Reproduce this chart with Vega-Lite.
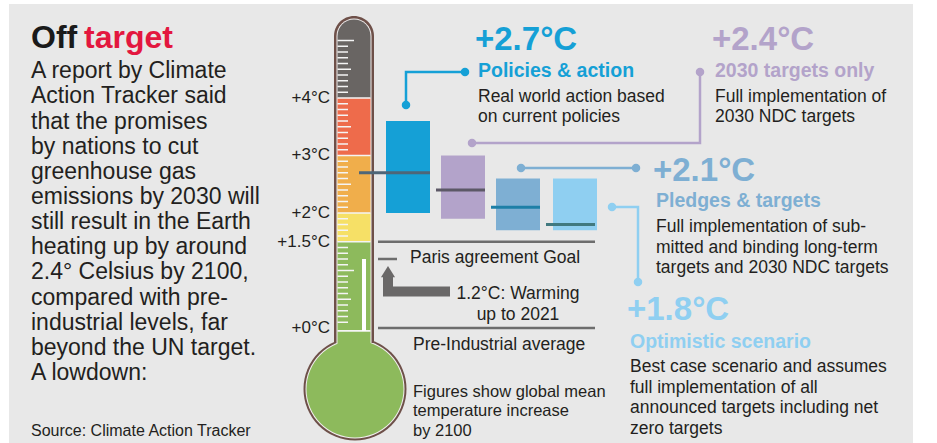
{
  "$schema": "https://vega.github.io/schema/vega-lite/v6.json",
  "width": 937,
  "height": 443,
  "autosize": {"type": "fit", "contains": "padding"},
  "padding": 0,
  "background": "#ffffff",
  "config": {"view": {"stroke": null}, "font": "Liberation Sans", "text": {"font": "Liberation Sans"}},
  "datasets": {
    "panel": [{"x0": 9, "x1": 913, "t0": -2, "t1": 5.635}],
    "bulb": [{"x": 355, "t": -1.061}],
    "tube": [
      {"part": "outline", "x0": 334, "x1": 374, "t0": -0.26, "t1": 5.426},
      {"part": "rim", "x0": 336.5, "x1": 371.5, "t0": -0.26, "t1": 5.383}
    ],
    "segments": [
      {"band": "green", "x0": 337.5, "x1": 370.5, "t0": -0.504, "t1": 1.5},
      {"band": "yellow", "x0": 337.5, "x1": 370.5, "t0": 1.5, "t1": 2},
      {"band": "orange", "x0": 337.5, "x1": 370.5, "t0": 2, "t1": 3},
      {"band": "red", "x0": 337.5, "x1": 370.5, "t0": 3, "t1": 4},
      {"band": "dark", "x0": 337.5, "x1": 370.5, "t0": 4, "t1": 5.365}
    ],
    "bounds": [{"t": -0.05}, {"t": 1.5}, {"t": 2}, {"t": 3}, {"t": 4}],
    "scale_labels": [
      {"t": 0, "label": "+0°C"},
      {"t": 1.5, "label": "+1.5°C"},
      {"t": 2, "label": "+2°C"},
      {"t": 3, "label": "+3°C"},
      {"t": 4, "label": "+4°C"}
    ],
    "ticks": [
      {"t": 0.1, "len": "s"}, {"t": 0.2, "len": "s"}, {"t": 0.3, "len": "s"}, {"t": 0.4, "len": "s"}, {"t": 0.5, "len": "h"},
      {"t": 0.6, "len": "s"}, {"t": 0.7, "len": "s"}, {"t": 0.8, "len": "s"}, {"t": 0.9, "len": "s"}, {"t": 1.0, "len": "i"},
      {"t": 1.1, "len": "s"}, {"t": 1.2, "len": "s"}, {"t": 1.3, "len": "s"}, {"t": 1.4, "len": "s"},
      {"t": 1.6, "len": "s"}, {"t": 1.7, "len": "s"}, {"t": 1.8, "len": "s"}, {"t": 1.9, "len": "s"},
      {"t": 2.1, "len": "s"}, {"t": 2.2, "len": "s"}, {"t": 2.3, "len": "s"}, {"t": 2.4, "len": "s"}, {"t": 2.5, "len": "h"},
      {"t": 2.6, "len": "s"}, {"t": 2.7, "len": "s"}, {"t": 2.8, "len": "s"}, {"t": 2.9, "len": "s"},
      {"t": 3.1, "len": "s"}, {"t": 3.2, "len": "s"}, {"t": 3.3, "len": "s"}, {"t": 3.4, "len": "s"}, {"t": 3.5, "len": "h"},
      {"t": 3.6, "len": "s"}, {"t": 3.7, "len": "s"}, {"t": 3.8, "len": "s"}, {"t": 3.9, "len": "s"},
      {"t": 4.1, "len": "s"}, {"t": 4.2, "len": "s"}, {"t": 4.3, "len": "s"}, {"t": 4.4, "len": "s"}, {"t": 4.5, "len": "h"},
      {"t": 4.6, "len": "s"}, {"t": 4.7, "len": "s"}, {"t": 4.8, "len": "s"}, {"t": 4.9, "len": "s"}, {"t": 5.0, "len": "i"}
    ],
    "mercury": [{"x": 364, "t0": -0.05, "t1": 1.2}],
    "scenarios": [
      {"scenario": "Policies & action", "x0": 386, "x1": 430, "low": 2.0, "high": 3.6, "mid": 2.7, "mx0": 359, "mx1": 430},
      {"scenario": "2030 targets only", "x0": 441, "x1": 485, "low": 1.9, "high": 3.0, "mid": 2.4, "mx0": 436, "mx1": 485},
      {"scenario": "Pledges & targets", "x0": 496, "x1": 540, "low": 1.7, "high": 2.6, "mid": 2.1, "mx0": 491, "mx1": 540},
      {"scenario": "Optimistic scenario", "x0": 553, "x1": 597, "low": 1.7, "high": 2.6, "mid": 1.8, "mx0": 546, "mx1": 595}
    ],
    "connectors": [
      {"scenario": "Policies & action", "o": 1, "x": 406, "t": 3.878, "end": true},
      {"scenario": "Policies & action", "o": 2, "x": 406, "t": 4.452, "end": false},
      {"scenario": "Policies & action", "o": 3, "x": 465, "t": 4.452, "end": true},
      {"scenario": "2030 targets only", "o": 1, "x": 472, "t": 3.217, "end": true},
      {"scenario": "2030 targets only", "o": 2, "x": 700, "t": 3.217, "end": false},
      {"scenario": "2030 targets only", "o": 3, "x": 700, "t": 4.452, "end": true},
      {"scenario": "Pledges & targets", "o": 1, "x": 521, "t": 2.783, "end": true},
      {"scenario": "Pledges & targets", "o": 2, "x": 636, "t": 2.783, "end": true},
      {"scenario": "Optimistic scenario", "o": 1, "x": 612, "t": 2.104, "end": true},
      {"scenario": "Optimistic scenario", "o": 2, "x": 638, "t": 2.104, "end": false},
      {"scenario": "Optimistic scenario", "o": 3, "x": 638, "t": 0.8, "end": true}
    ],
    "guides": [
      {"x0": 378, "x1": 595, "t": 1.5},
      {"x0": 378, "x1": 595, "t": 0},
      {"x0": 378, "x1": 397, "t": 1.2}
    ],
    "arrow": [
      {"o": 1, "x": 388, "t": 0.887},
      {"o": 2, "x": 388, "t": 0.635},
      {"o": 3, "x": 450, "t": 0.635}
    ],
    "arrowhead": [{"x": 388, "t": 0.957}],
    "texts": [
      {"kind": "off", "x": 31, "t": 4.87, "text": "Off"},
      {"kind": "target", "x": 84, "t": 4.87, "text": "target"},
      {"kind": "lead", "x": 31, "t": 4.343, "text": "A report by Climate\nAction Tracker said\nthat the promises\nby nations to cut\ngreenhouse gas\nemissions by 2030 will\nstill result in the Earth\nheating up by around\n2.4° Celsius by 2100,\ncompared with pre-\nindustrial levels, far\nbeyond the UN target.\nA lowdown:"},
      {"kind": "source", "x": 31, "t": -1.87, "text": "Source: Climate Action Tracker"},
      {"kind": "note", "x": 410, "t": 1.13, "text": "Paris agreement Goal"},
      {"kind": "note", "x": 413, "t": -0.383, "text": "Pre-Industrial average"},
      {"kind": "notec", "x": 518, "t": 0.496, "text": "1.2°C: Warming\nup to 2021"},
      {"kind": "fig", "x": 413, "t": -1.2, "text": "Figures show global mean\ntemperature increase\nby 2100"},
      {"kind": "head", "scenario": "Policies & action", "x": 475, "t": 4.835, "text": "+2.7°C"},
      {"kind": "head", "scenario": "2030 targets only", "x": 712, "t": 4.835, "text": "+2.4°C"},
      {"kind": "head", "scenario": "Pledges & targets", "x": 653, "t": 2.557, "text": "+2.1°C"},
      {"kind": "head", "scenario": "Optimistic scenario", "x": 627, "t": 0.139, "text": "+1.8°C"},
      {"kind": "sub", "scenario": "Policies & action", "x": 478, "t": 4.365, "text": "Policies & action"},
      {"kind": "sub", "scenario": "2030 targets only", "x": 715, "t": 4.365, "text": "2030 targets only"},
      {"kind": "sub", "scenario": "Pledges & targets", "x": 656, "t": 2.104, "text": "Pledges & targets"},
      {"kind": "sub", "scenario": "Optimistic scenario", "x": 630, "t": -0.348, "text": "Optimistic scenario"},
      {"kind": "body", "x": 478, "t": 3.939, "text": "Real world action based\non current policies"},
      {"kind": "body", "x": 715, "t": 3.939, "text": "Full implementation of\n2030 NDC targets"},
      {"kind": "body", "x": 656, "t": 1.67, "text": "Full implementation of sub-\nmitted and binding long-term\ntargets and 2030 NDC targets"},
      {"kind": "body", "x": 630, "t": -0.765, "text": "Best case scenario and assumes\nfull implementation of all\nannounced targets including net\nzero targets"}
    ]
  },
  "layer": [
    {
      "data": {"name": "panel"},
      "mark": {"type": "rect", "color": "#e8e8e8"},
      "encoding": {
        "x": {"field": "x0", "type": "quantitative", "scale": {"domain": [0, 937], "nice": false, "zero": false}, "axis": null},
        "x2": {"field": "x1"},
        "y": {"field": "t0", "type": "quantitative", "scale": {"domain": [-2, 5.7043], "nice": false, "zero": false}, "axis": null},
        "y2": {"field": "t1"}
      }
    },
    {
      "data": {"name": "scale_labels"},
      "mark": {"type": "text", "align": "right", "baseline": "middle", "fontSize": 17, "color": "#231f20"},
      "encoding": {"x": {"datum": 330, "type": "quantitative", "axis": null}, "y": {"field": "t", "type": "quantitative", "axis": null}, "text": {"field": "label", "type": "nominal"}}
    },
    {
      "data": {"name": "bulb"},
      "mark": {"type": "point", "filled": true, "opacity": 1, "size": 10609, "color": "#6e5049"},
      "encoding": {"x": {"field": "x", "type": "quantitative", "axis": null}, "y": {"field": "t", "type": "quantitative", "axis": null}}
    },
    {
      "data": {"name": "bulb"},
      "mark": {"type": "point", "filled": true, "opacity": 1, "size": 9801, "color": "#f1efef"},
      "encoding": {"x": {"field": "x", "type": "quantitative", "axis": null}, "y": {"field": "t", "type": "quantitative", "axis": null}}
    },
    {
      "data": {"name": "bulb"},
      "mark": {"type": "point", "filled": true, "opacity": 1, "size": 9409, "color": "#8dba5c"},
      "encoding": {"x": {"field": "x", "type": "quantitative", "axis": null}, "y": {"field": "t", "type": "quantitative", "axis": null}}
    },
    {
      "data": {"name": "tube"},
      "transform": [{"filter": "datum.part == 'outline'"}],
      "mark": {"type": "rect", "color": "#6e5049", "cornerRadiusTopLeft": 20, "cornerRadiusTopRight": 20},
      "encoding": {"x": {"field": "x0", "type": "quantitative", "axis": null}, "x2": {"field": "x1"}, "y": {"field": "t0", "type": "quantitative", "axis": null}, "y2": {"field": "t1"}}
    },
    {
      "data": {"name": "tube"},
      "transform": [{"filter": "datum.part == 'rim'"}],
      "mark": {"type": "rect", "color": "#f1efef", "cornerRadiusTopLeft": 17.5, "cornerRadiusTopRight": 17.5},
      "encoding": {"x": {"field": "x0", "type": "quantitative", "axis": null}, "x2": {"field": "x1"}, "y": {"field": "t0", "type": "quantitative", "axis": null}, "y2": {"field": "t1"}}
    },
    {
      "data": {"name": "segments"},
      "transform": [{"filter": "datum.band != 'dark'"}],
      "mark": {"type": "rect"},
      "encoding": {
        "x": {"field": "x0", "type": "quantitative", "axis": null}, "x2": {"field": "x1"},
        "y": {"field": "t0", "type": "quantitative", "axis": null}, "y2": {"field": "t1"},
        "fill": {"field": "band", "type": "nominal", "legend": null, "scale": {"domain": ["green", "yellow", "orange", "red", "dark"], "range": ["#8dba5c", "#f6e066", "#f0ae4b", "#ee6b4b", "#696563"]}}
      }
    },
    {
      "data": {"name": "segments"},
      "transform": [{"filter": "datum.band == 'dark'"}],
      "mark": {"type": "rect", "cornerRadiusTopLeft": 16.5, "cornerRadiusTopRight": 16.5},
      "encoding": {
        "x": {"field": "x0", "type": "quantitative", "axis": null}, "x2": {"field": "x1"},
        "y": {"field": "t0", "type": "quantitative", "axis": null}, "y2": {"field": "t1"},
        "fill": {"field": "band", "type": "nominal", "legend": null}
      }
    },
    {
      "data": {"name": "bounds"},
      "mark": {"type": "rule", "color": "#f4f4f4", "strokeWidth": 1.6},
      "encoding": {"x": {"datum": 337.5, "type": "quantitative", "axis": null}, "x2": {"datum": 370.5}, "y": {"field": "t", "type": "quantitative", "axis": null}}
    },
    {
      "data": {"name": "ticks"},
      "transform": [{"filter": "datum.len == 's'"}],
      "mark": {"type": "rule", "color": "#f4f4f4", "strokeWidth": 1.5},
      "encoding": {"x": {"datum": 337.5, "type": "quantitative", "axis": null}, "x2": {"datum": 348}, "y": {"field": "t", "type": "quantitative", "axis": null}}
    },
    {
      "data": {"name": "ticks"},
      "transform": [{"filter": "datum.len == 'h'"}],
      "mark": {"type": "rule", "color": "#f4f4f4", "strokeWidth": 1.5},
      "encoding": {"x": {"datum": 337.5, "type": "quantitative", "axis": null}, "x2": {"datum": 351}, "y": {"field": "t", "type": "quantitative", "axis": null}}
    },
    {
      "data": {"name": "ticks"},
      "transform": [{"filter": "datum.len == 'i'"}],
      "mark": {"type": "rule", "color": "#f4f4f4", "strokeWidth": 1.5},
      "encoding": {"x": {"datum": 337.5, "type": "quantitative", "axis": null}, "x2": {"datum": 354}, "y": {"field": "t", "type": "quantitative", "axis": null}}
    },
    {
      "data": {"name": "mercury"},
      "mark": {"type": "rule", "color": "#ffffff", "strokeWidth": 4},
      "encoding": {"x": {"field": "x", "type": "quantitative", "axis": null}, "y": {"field": "t0", "type": "quantitative", "axis": null}, "y2": {"field": "t1"}}
    },
    {
      "data": {"name": "scenarios"},
      "mark": {"type": "rect"},
      "encoding": {
        "x": {"field": "x0", "type": "quantitative", "axis": null}, "x2": {"field": "x1"},
        "y": {"field": "low", "type": "quantitative", "axis": null}, "y2": {"field": "high"},
        "color": {"field": "scenario", "type": "nominal", "legend": null, "scale": {"domain": ["Policies & action", "2030 targets only", "Pledges & targets", "Optimistic scenario"], "range": ["#15a0d6", "#b3a3ca", "#7eafd3", "#8fcff1"]}}
      }
    },
    {
      "data": {"name": "scenarios"},
      "mark": {"type": "rule", "strokeWidth": 3},
      "encoding": {
        "x": {"field": "mx0", "type": "quantitative", "axis": null}, "x2": {"field": "mx1"},
        "y": {"field": "mid", "type": "quantitative", "axis": null},
        "stroke": {"field": "scenario", "type": "nominal", "legend": null, "scale": {"domain": ["Policies & action", "2030 targets only", "Pledges & targets", "Optimistic scenario"], "range": ["#4e6678", "#5c5866", "#1d7fa7", "#41797f"]}}
      }
    },
    {
      "data": {"name": "guides"},
      "mark": {"type": "rule", "color": "#6d6d6d", "strokeWidth": 2.5},
      "encoding": {"x": {"field": "x0", "type": "quantitative", "axis": null}, "x2": {"field": "x1"}, "y": {"field": "t", "type": "quantitative", "axis": null}}
    },
    {
      "data": {"name": "arrow"},
      "mark": {"type": "line", "color": "#6a6868", "strokeWidth": 10, "strokeCap": "butt", "strokeJoin": "miter"},
      "encoding": {"x": {"field": "x", "type": "quantitative", "axis": null}, "y": {"field": "t", "type": "quantitative", "axis": null}, "order": {"field": "o"}}
    },
    {
      "data": {"name": "arrowhead"},
      "mark": {"type": "point", "filled": true, "opacity": 1, "size": 196, "shape": "M0,-1L1,0.6L-1,0.6Z", "color": "#6a6868"},
      "encoding": {"x": {"field": "x", "type": "quantitative", "axis": null}, "y": {"field": "t", "type": "quantitative", "axis": null}}
    },
    {
      "data": {"name": "connectors"},
      "mark": {"type": "line", "strokeWidth": 2.5, "strokeCap": "butt", "strokeJoin": "miter"},
      "encoding": {
        "x": {"field": "x", "type": "quantitative", "axis": null}, "y": {"field": "t", "type": "quantitative", "axis": null},
        "color": {"field": "scenario", "type": "nominal", "legend": null},
        "order": {"field": "o"}
      }
    },
    {
      "data": {"name": "connectors"},
      "transform": [{"filter": "datum.end"}],
      "mark": {"type": "point", "filled": true, "opacity": 1, "size": 72},
      "encoding": {
        "x": {"field": "x", "type": "quantitative", "axis": null}, "y": {"field": "t", "type": "quantitative", "axis": null},
        "color": {"field": "scenario", "type": "nominal", "legend": null}
      }
    },
    {
      "data": {"name": "texts"},
      "transform": [{"filter": "datum.kind == 'off'"}],
      "mark": {"type": "text", "align": "left", "baseline": "alphabetic", "fontSize": 32, "fontWeight": "bold", "color": "#1a1a1a"},
      "encoding": {"x": {"field": "x", "type": "quantitative", "axis": null}, "y": {"field": "t", "type": "quantitative", "axis": null}, "text": {"field": "text", "type": "nominal"}}
    },
    {
      "data": {"name": "texts"},
      "transform": [{"filter": "datum.kind == 'target'"}],
      "mark": {"type": "text", "align": "left", "baseline": "alphabetic", "fontSize": 32, "fontWeight": "bold", "color": "#e3173f"},
      "encoding": {"x": {"field": "x", "type": "quantitative", "axis": null}, "y": {"field": "t", "type": "quantitative", "axis": null}, "text": {"field": "text", "type": "nominal"}}
    },
    {
      "data": {"name": "texts"},
      "transform": [{"filter": "datum.kind == 'lead'"}],
      "mark": {"type": "text", "align": "left", "baseline": "alphabetic", "fontSize": 23, "lineHeight": 25.14, "lineBreak": "\n", "color": "#231f20"},
      "encoding": {"x": {"field": "x", "type": "quantitative", "axis": null}, "y": {"field": "t", "type": "quantitative", "axis": null}, "text": {"field": "text", "type": "nominal"}}
    },
    {
      "data": {"name": "texts"},
      "transform": [{"filter": "datum.kind == 'source'"}],
      "mark": {"type": "text", "align": "left", "baseline": "alphabetic", "fontSize": 16, "color": "#231f20"},
      "encoding": {"x": {"field": "x", "type": "quantitative", "axis": null}, "y": {"field": "t", "type": "quantitative", "axis": null}, "text": {"field": "text", "type": "nominal"}}
    },
    {
      "data": {"name": "texts"},
      "transform": [{"filter": "datum.kind == 'note'"}],
      "mark": {"type": "text", "align": "left", "baseline": "alphabetic", "fontSize": 17.5, "color": "#231f20"},
      "encoding": {"x": {"field": "x", "type": "quantitative", "axis": null}, "y": {"field": "t", "type": "quantitative", "axis": null}, "text": {"field": "text", "type": "nominal"}}
    },
    {
      "data": {"name": "texts"},
      "transform": [{"filter": "datum.kind == 'notec'"}],
      "mark": {"type": "text", "align": "center", "baseline": "alphabetic", "fontSize": 17.5, "lineHeight": 20.5, "lineBreak": "\n", "color": "#231f20"},
      "encoding": {"x": {"field": "x", "type": "quantitative", "axis": null}, "y": {"field": "t", "type": "quantitative", "axis": null}, "text": {"field": "text", "type": "nominal"}}
    },
    {
      "data": {"name": "texts"},
      "transform": [{"filter": "datum.kind == 'fig'"}],
      "mark": {"type": "text", "align": "left", "baseline": "alphabetic", "fontSize": 16.5, "lineHeight": 19.5, "lineBreak": "\n", "color": "#231f20"},
      "encoding": {"x": {"field": "x", "type": "quantitative", "axis": null}, "y": {"field": "t", "type": "quantitative", "axis": null}, "text": {"field": "text", "type": "nominal"}}
    },
    {
      "data": {"name": "texts"},
      "transform": [{"filter": "datum.kind == 'head'"}],
      "mark": {"type": "text", "align": "left", "baseline": "alphabetic", "fontSize": 33, "fontWeight": "bold"},
      "encoding": {"x": {"field": "x", "type": "quantitative", "axis": null}, "y": {"field": "t", "type": "quantitative", "axis": null}, "text": {"field": "text", "type": "nominal"}, "color": {"field": "scenario", "type": "nominal", "legend": null}}
    },
    {
      "data": {"name": "texts"},
      "transform": [{"filter": "datum.kind == 'sub'"}],
      "mark": {"type": "text", "align": "left", "baseline": "alphabetic", "fontSize": 19.5, "fontWeight": "bold"},
      "encoding": {"x": {"field": "x", "type": "quantitative", "axis": null}, "y": {"field": "t", "type": "quantitative", "axis": null}, "text": {"field": "text", "type": "nominal"}, "color": {"field": "scenario", "type": "nominal", "legend": null}}
    },
    {
      "data": {"name": "texts"},
      "transform": [{"filter": "datum.kind == 'body'"}],
      "mark": {"type": "text", "align": "left", "baseline": "alphabetic", "fontSize": 17.5, "lineHeight": 20.7, "lineBreak": "\n", "color": "#231f20"},
      "encoding": {"x": {"field": "x", "type": "quantitative", "axis": null}, "y": {"field": "t", "type": "quantitative", "axis": null}, "text": {"field": "text", "type": "nominal"}}
    }
  ]
}
